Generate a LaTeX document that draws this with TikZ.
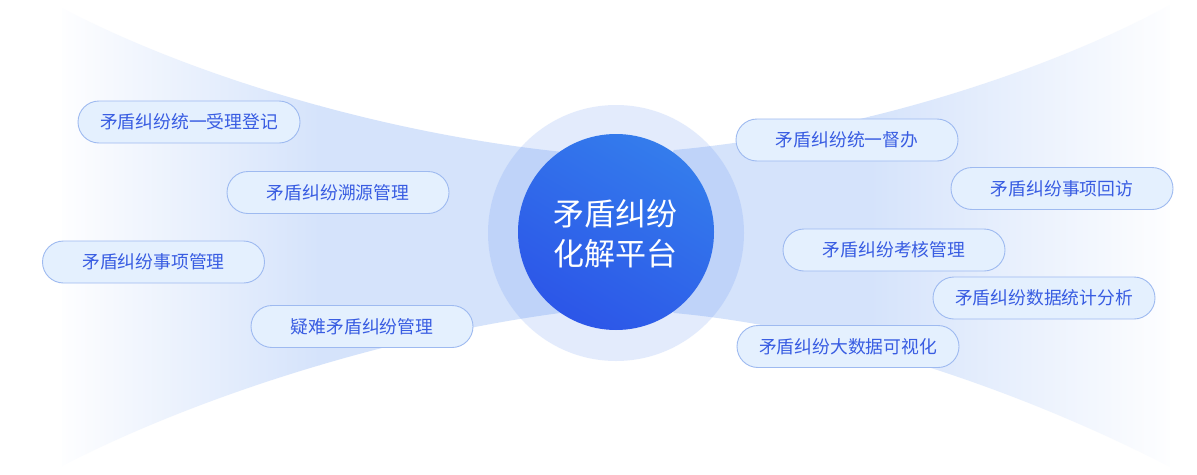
\documentclass[tikz,border=0pt]{standalone}
\usepackage{fontspec}
\setmainfont{Noto Sans CJK SC}
\newfontfamily\cjk{Noto Sans CJK SC}
\definecolor{fanc}{RGB}{213,227,251}
\definecolor{haloc}{RGB}{60,120,240}
\definecolor{boxfill}{RGB}{228,240,254}
\definecolor{boxdraw}{RGB}{158,186,240}
\definecolor{boxtext}{RGB}{56,92,226}
\definecolor{coretop}{RGB}{52,124,236}
\definecolor{corebot}{RGB}{44,86,232}
\tikzset{
  itembox/.style={draw=boxdraw, line width=0.9pt, fill=boxfill, rounded corners=21pt,
    minimum width=222pt, minimum height=42pt, inner sep=0pt,
    text=boxtext, font=\cjk\fontsize{17.8pt}{18pt}\selectfont},
  coretext/.style={text=white, align=center, inner sep=0pt,
    font=\cjk\fontsize{31pt}{40pt}\selectfont}
}
\begin{document}
\begin{tikzpicture}[x=1pt,y=-1pt]
\useasboundingbox (0,0) rectangle (1197,474);
\fill[white] (0,0) rectangle (1197,474);
% left fan
\begin{scope}
  \clip (62,8) .. controls (190,75) and (380,133) .. (563,152)
        -- (616,232) -- (560,313)
        .. controls (380,337) and (190,400) .. (62,466) -- cycle;
  \shade[left color=fanc!4, right color=fanc] (62,0) rectangle (320,474);
  \fill[fanc] (319,0) rectangle (620,474);
\end{scope}
% right fan
\begin{scope}
  \clip (1170,5) .. controls (1050,70) and (860,133) .. (674,150)
        -- (616,232) -- (674,313)
        .. controls (860,330) and (1050,405) .. (1170,467) -- cycle;
  \shade[left color=fanc, right color=fanc!4] (870,0) rectangle (1170,474);
  \fill[fanc] (610,0) rectangle (871,474);
\end{scope}
% halo
\fill[haloc, opacity=0.14] (616,233) circle[radius=128pt];
% core
\shade[top color=coretop, bottom color=corebot, shading angle=-30]
  (616,232) circle[radius=98pt];
\node[coretext] (core) at (615,234) {矛盾纠纷\\化解平台};
% left items
\node[itembox] (l1) at (189,122) {矛盾纠纷统一受理登记};
\node[itembox] (l2) at (338,192.5) {矛盾纠纷溯源管理};
\node[itembox] (l3) at (153.5,262) {矛盾纠纷事项管理};
\node[itembox] (l4) at (362,326.5) {疑难矛盾纠纷管理};
% right items
\node[itembox] (r1) at (847,140) {矛盾纠纷统一督办};
\node[itembox] (r2) at (1062,188.5) {矛盾纠纷事项回访};
\node[itembox] (r3) at (894,250) {矛盾纠纷考核管理};
\node[itembox] (r4) at (1044,298) {矛盾纠纷数据统计分析};
\node[itembox] (r5) at (848,346.5) {矛盾纠纷大数据可视化};
\end{tikzpicture}
\end{document}
